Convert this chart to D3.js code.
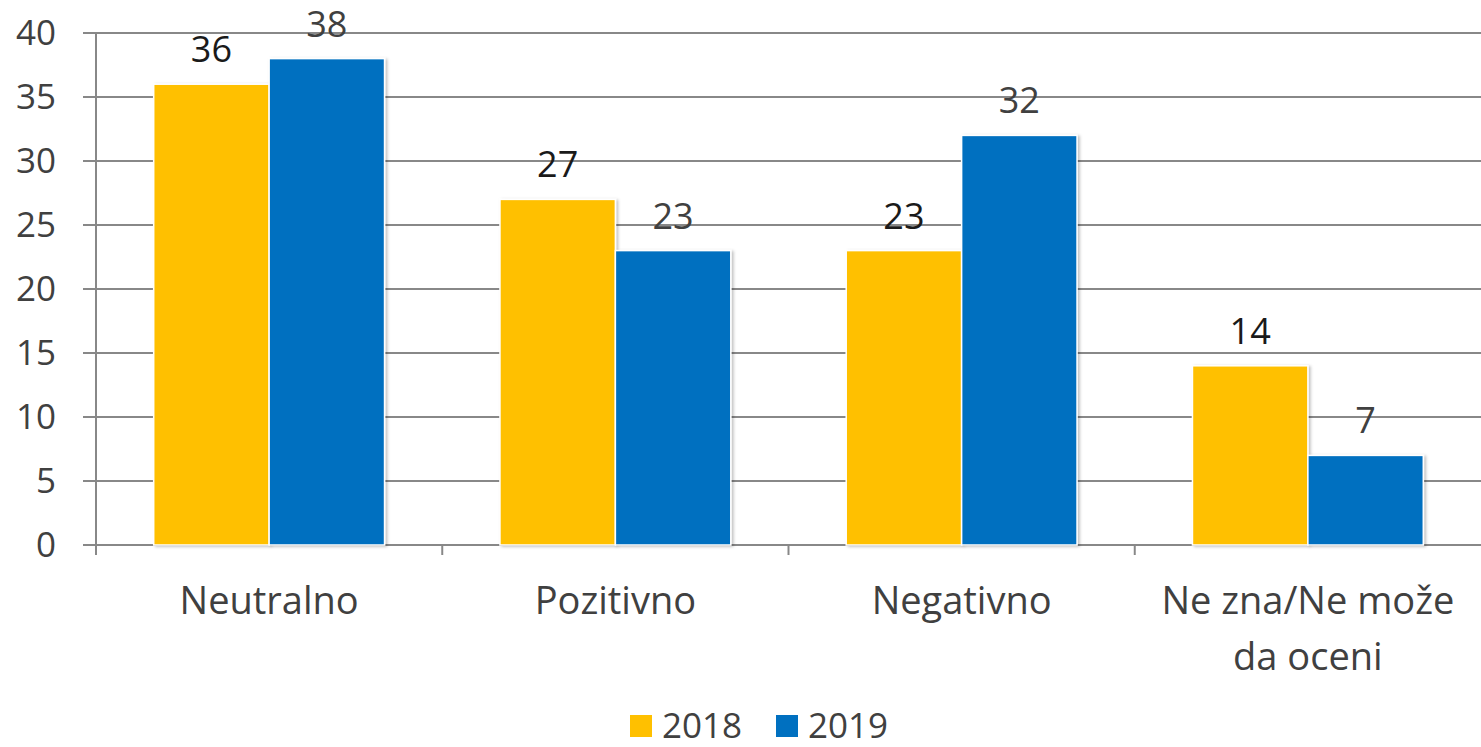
<!DOCTYPE html>
<html><head><meta charset="utf-8">
<script src="https://cdn.jsdelivr.net/npm/d3@7"></script>
<style>html,body{margin:0;padding:0;background:#fff;}</style>
</head><body>
<svg id="c" width="1481" height="747"></svg>
<script>
const categories = [["Neutralno"], ["Pozitivno"], ["Negativno"], ["Ne zna/Ne može", "da oceni"]];
const series = ["2018", "2019"];
const values2018 = [36, 27, 23, 14];
const values2019 = [38, 23, 32, 7];
const yTicks = [0, 5, 10, 15, 20, 25, 30, 35, 40];
const colors = ["#FFC000", "#0070C0"];

(function(){
const svg = d3.select("#c");
const font = "'Open Sans', sans-serif";
const mL = 96, mR = 1481, mT = 33, mB = 545;
const y = d3.scaleLinear().domain([0, 40]).range([mB, mT]);
const x = d3.scaleBand().domain(d3.range(categories.length)).range([mL, mR]).paddingInner(0).paddingOuter(0);
const xs = d3.scaleBand().domain(series).range([x.bandwidth()/6, x.bandwidth()*5/6]);

const defs = svg.append("defs");
const f = defs.append("filter").attr("id","sh").attr("x","-10%").attr("y","-10%").attr("width","130%").attr("height","130%");
f.append("feDropShadow").attr("dx",2).attr("dy",1).attr("stdDeviation",1.5).attr("flood-color","#000").attr("flood-opacity",0.25);

svg.append("g").selectAll("line").data(yTicks).join("line")
  .attr("x1", mL - 13).attr("x2", mR).attr("y1", d => y(d)).attr("y2", d => y(d))
  .attr("stroke", "#888").attr("stroke-width", 2);
svg.append("line").attr("x1", mL).attr("x2", mL).attr("y1", mT).attr("y2", mB + 10).attr("stroke", "#888").attr("stroke-width", 2);
svg.append("g").selectAll("line").data(d3.range(categories.length)).join("line")
  .attr("x1", d => x(d)).attr("x2", d => x(d)).attr("y1", mB).attr("y2", mB + 10)
  .attr("stroke", "#888").attr("stroke-width", 2);

svg.append("g").selectAll("text").data(yTicks).join("text")
  .attr("x", 56).attr("y", d => y(d)).attr("dy", "0.35em").attr("text-anchor", "end")
  .attr("font-family", font).attr("font-size", 35).attr("fill", "#404040").text(d => d);

const data = [values2018, values2019];
series.forEach((s, si) => {
  const g = svg.append("g");
  g.selectAll("rect").data(data[si]).join("rect")
    .attr("x", (d, i) => x(i) + xs(s)).attr("width", xs.bandwidth())
    .attr("y", d => y(d)).attr("height", d => mB - y(d))
    .attr("fill", colors[si]).attr("stroke", "#fff").attr("stroke-width", 1.5).attr("filter", "url(#sh)");
  g.selectAll("text").data(data[si]).join("text")
    .attr("x", (d, i) => x(i) + xs(s) + xs.bandwidth()/2).attr("y", d => y(d) - 22)
    .attr("text-anchor", "middle").attr("font-family", font).attr("font-size", 36)
    .attr("fill", si === 0 ? "#1a1a1a" : "#404040").text(d => d);
});

const cl = svg.append("g").selectAll("text").data(categories).join("text")
  .attr("x", (d, i) => x(i) + x.bandwidth()/2).attr("y", 614)
  .attr("text-anchor", "middle").attr("font-family", font).attr("font-size", 38).attr("fill", "#404040");
cl.selectAll("tspan").data(d => d).join("tspan")
  .attr("x", function(){ return this.parentNode.getAttribute("x"); })
  .attr("dy", (d, i) => i === 0 ? 0 : 56).text(d => d);

const lg = svg.append("g");
const lx = [630, 776];
series.forEach((s, si) => {
  lg.append("rect").attr("x", lx[si]).attr("y", 715).attr("width", 22).attr("height", 22).attr("fill", colors[si]);
  lg.append("text").attr("x", lx[si] + 32).attr("y", 726).attr("dy", "0.35em").attr("font-family", font)
    .attr("font-size", 35).attr("fill", "#404040").text(s);
});
})();
</script>
</body></html>
